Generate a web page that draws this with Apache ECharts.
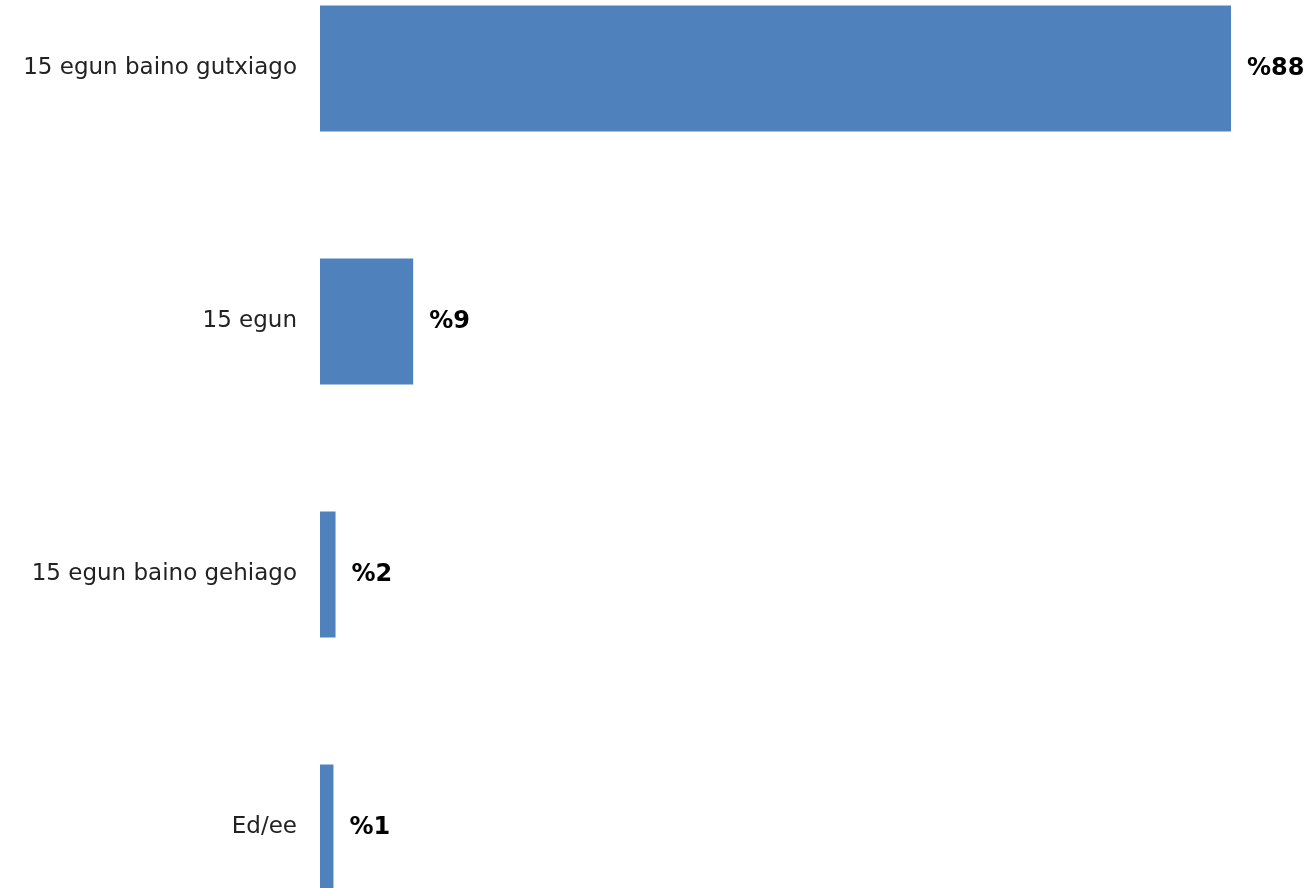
<!DOCTYPE html>
<html><head><meta charset="utf-8">
<script src="https://cdn.jsdelivr.net/npm/echarts@6/dist/echarts.min.js"></script>
<style>html,body{margin:0;padding:0;background:#fff;overflow:hidden;width:1310px;height:888px;position:relative}#c{position:absolute;left:0;top:-58px;width:1310px;height:1012px}</style>
</head><body><div id="c"></div>
<script>
const categories = ["15 egun baino gutxiago", "15 egun", "15 egun baino gehiago", "Ed/ee"];
const values = [88, 9, 1.5, 1.3];
const valueLabels = ["%88", "%9", "%2", "%1"];

const chart = echarts.init(document.getElementById('c'));
chart.setOption({
  animation: false,
  grid: { left: 320, right: 79, top: 0, bottom: 0, containLabel: false },
  xAxis: { type: 'value', min: 0, max: 88, show: false },
  yAxis: {
    type: 'category', data: categories, inverse: true,
    axisLine: { show: false }, axisTick: { show: false },
    axisLabel: { margin: 23, color: '#222', fontSize: 23, fontFamily: 'DejaVu Sans', fontWeight: 'normal' }
  },
  series: [{
    type: 'bar', data: values, barWidth: 126,
    itemStyle: { color: '#4F81BD' },
    label: {
      show: true, position: 'right', distance: 16,
      formatter: p => valueLabels[p.dataIndex],
      fontSize: 24, fontWeight: 'bold', color: '#000', fontFamily: 'DejaVu Sans'
    }
  }]
});
</script></body></html>
